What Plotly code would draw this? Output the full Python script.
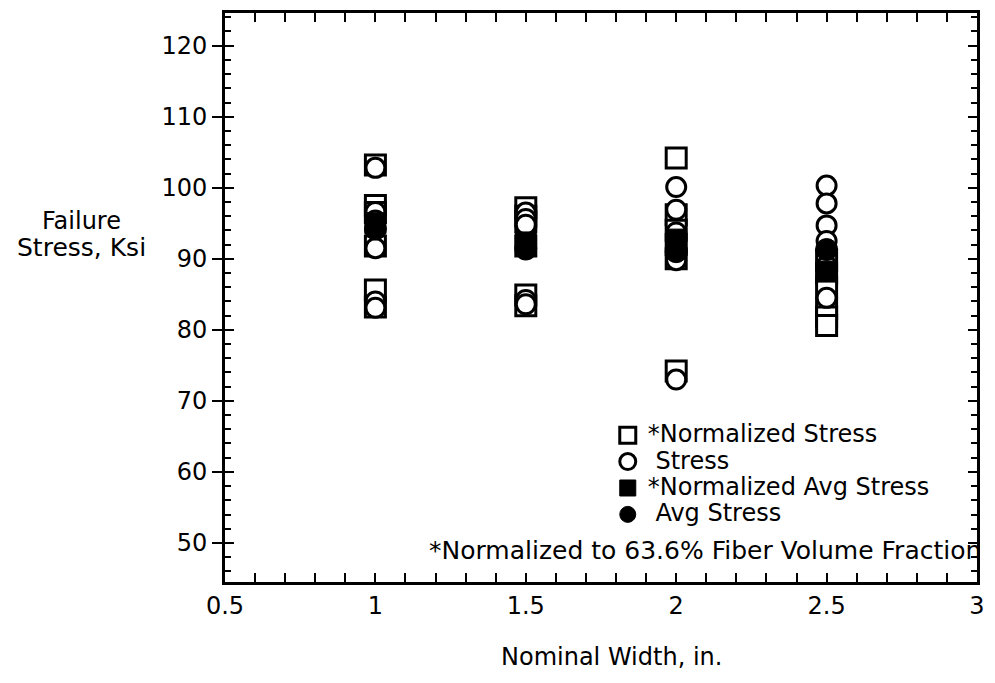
import plotly.graph_objects as go

# nominal specimen widths, in.
widths = [1.0, 1.5, 2.0, 2.5]

# failure stress (ksi) read per width group
stress_w1 = [102.8, 96.6, 95.4, 91.5, 84.0, 83.1]
stress_w15 = [96.5, 95.6, 94.8, 91.3, 84.2, 83.6]
stress_w2 = [100.1, 96.9, 93.7, 91.0, 89.8, 73.0]
stress_w25 = [100.3, 97.8, 94.7, 92.5, 89.0, 84.5]

# normalized to 63.6% fiber volume fraction
norm_w1 = [103.2, 97.5, 96.5, 91.8, 85.6, 83.2]
norm_w15 = [97.2, 96.0, 95.2, 91.8, 84.9, 83.4]
norm_w2 = [104.2, 96.2, 94.0, 92.0, 90.0, 74.2]
norm_w25 = [89.8, 88.0, 86.0, 83.0, 81.8, 80.6]

avg_norm_stress = [95.0, 92.3, 92.7, 88.2]
avg_stress = [94.2, 91.5, 91.0, 91.3]

stress_groups = [stress_w1, stress_w15, stress_w2, stress_w25]
norm_groups = [norm_w1, norm_w15, norm_w2, norm_w25]

x_stress, y_stress, x_norm, y_norm = [], [], [], []
for w, vals in zip(widths, stress_groups):
    x_stress += [w] * len(vals)
    y_stress += vals
for w, vals in zip(widths, norm_groups):
    x_norm += [w] * len(vals)
    y_norm += vals

FONT = "DejaVu Sans"
Y_RANGE = [44.5, 124.6]


def legend_label(txt):
    # bigger text than the legend font, keeps rows tight like the original
    return '<span style="font-size:24px">' + txt + '</span>'


fig = go.Figure()
# open markers on the main y axis (outer ticks + labels)
fig.add_trace(go.Scatter(x=x_norm, y=y_norm, mode="markers",
                         name=legend_label("*Normalized Stress"),
                         marker=dict(symbol="square", size=20, color="white",
                                     line=dict(color="black", width=3))))
fig.add_trace(go.Scatter(x=x_stress, y=y_stress, mode="markers",
                         name=legend_label("\u00a0Stress"),
                         marker=dict(symbol="circle", size=19, color="white",
                                     line=dict(color="black", width=3))))
# averages on the overlay axis (inner ticks), drawn on top
fig.add_trace(go.Scatter(x=widths, y=avg_norm_stress, mode="markers", yaxis="y2",
                         name=legend_label("*Normalized Avg Stress"),
                         marker=dict(symbol="square", size=21, color="black",
                                     line=dict(color="black", width=1))))
fig.add_trace(go.Scatter(x=widths, y=avg_stress, mode="markers", yaxis="y2",
                         name=legend_label("\u00a0Avg Stress"),
                         marker=dict(symbol="circle", size=22, color="black",
                                     line=dict(color="black", width=1))))

# page body has an 8px margin all round, so the figure is sized to fit inside it
fig.update_layout(
    width=979, height=667,
    margin=dict(l=217, r=4, t=2, b=93),
    paper_bgcolor="white", plot_bgcolor="white",
    font=dict(family=FONT, size=24, color="black"),
    showlegend=True,
    legend=dict(x=0.509, y=0.29, xanchor="left", yanchor="top",
                bgcolor="rgba(0,0,0,0)", font=dict(family=FONT, size=18),
                itemsizing="trace", tracegroupgap=0),
    xaxis=dict(range=[0.5, 3], tick0=0.5, dtick=0.5, ticks="inside", ticklen=9,
               tickwidth=2, tickcolor="black", showline=True, linewidth=3,
               linecolor="black", mirror="allticks", showgrid=False, zeroline=False,
               tickfont=dict(family=FONT, size=24), ticklabeloverflow="allow",
               minor=dict(dtick=0.1, ticks="inside", ticklen=5, tickwidth=2,
                          tickcolor="black", showgrid=False)),
    yaxis=dict(range=Y_RANGE, tick0=0, dtick=10, ticks="outside", ticklen=10,
               tickwidth=2, tickcolor="black", showline=True, linewidth=3,
               linecolor="black", mirror=True, showgrid=False, zeroline=False,
               tickfont=dict(family=FONT, size=24)),
    yaxis2=dict(range=Y_RANGE, overlaying="y", side="left", anchor="x",
                tick0=0, dtick=10, ticks="inside", ticklen=9, tickwidth=2,
                tickcolor="black", showline=True, linewidth=3, linecolor="black",
                mirror="allticks", showgrid=False, zeroline=False,
                showticklabels=False,
                minor=dict(dtick=2, ticks="inside", ticklen=6, tickwidth=2,
                           tickcolor="black", showgrid=False)),
)

# y title sits horizontally left of the axis
fig.add_annotation(text="Failure", xref="paper", yref="paper", x=-0.191, y=0.634,
                   showarrow=False, xanchor="center", yanchor="middle",
                   font=dict(family=FONT, size=24))
fig.add_annotation(text="Stress, Ksi", xref="paper", yref="paper", x=-0.191, y=0.587,
                   showarrow=False, xanchor="center", yanchor="middle",
                   font=dict(family=FONT, size=25))
fig.add_annotation(text="Nominal Width, in.", xref="paper", yref="paper", x=0.514,
                   y=-0.131, showarrow=False, xanchor="center", yanchor="middle",
                   font=dict(family=FONT, size=24))
fig.add_annotation(text="*Normalized to 63.6% Fiber Volume Fraction", xref="paper",
                   yref="paper", x=1.008, y=0.056, showarrow=False, xanchor="right",
                   yanchor="middle", font=dict(family=FONT, size=25))

fig.write_html("out.html")
